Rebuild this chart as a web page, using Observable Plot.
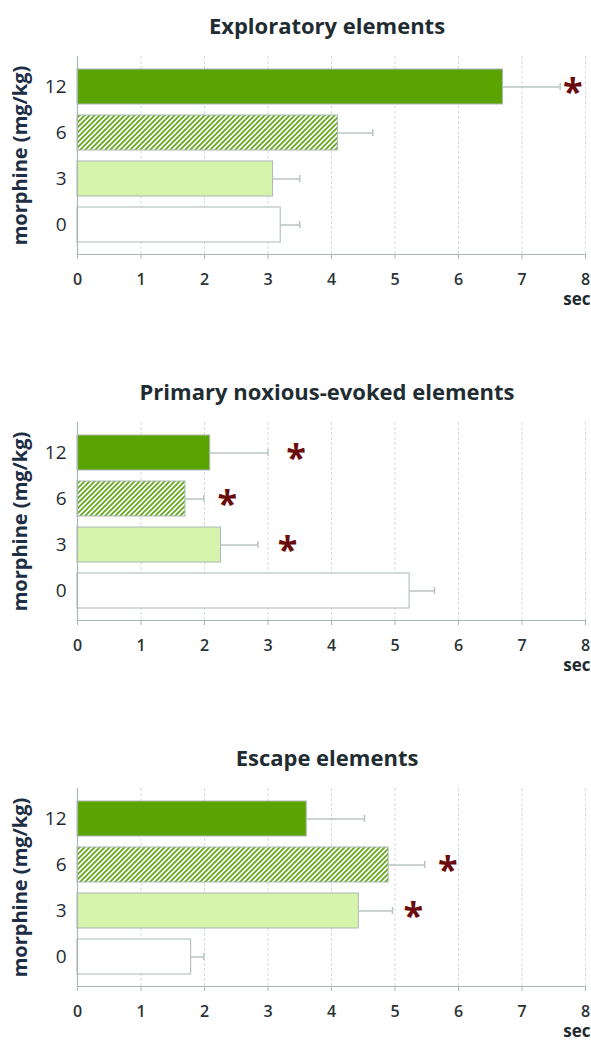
<!DOCTYPE html>
<html>
<head>
<meta charset="utf-8">
<script src="https://cdn.jsdelivr.net/npm/d3@7"></script>
<script src="https://cdn.jsdelivr.net/npm/@observablehq/plot@0.6"></script>
<style>
  html, body { margin: 0; padding: 0; background: #ffffff; }
  body { width: 591px; font-family: "Open Sans", sans-serif; }
  .panel { width: 591px; }
  .title {
    box-sizing: border-box; width: 591px; height: 45px; padding-top: 5px; padding-left: 63px;
    line-height: 40px; text-align: center; font-size: 22px; font-weight: bold; color: #1f2d33;
  }
  svg { display: block; }
</style>
</head>
<body>
<svg width="0" height="0" style="position:absolute">
  <defs>
    <pattern id="hatch" patternUnits="userSpaceOnUse" width="5" height="5">
      <rect width="5" height="5" fill="#ffffff"></rect>
      <path d="M-1,1 l2,-2 M0,5 l5,-5 M4,6 l2,-2" stroke="#6aaa22" stroke-width="1.9"></path>
    </pattern>
  </defs>
</svg>
<div id="chart"></div>
<script>
// ---- data ----
const doses = ["12", "6", "3", "0"];
const panelTitles = ["Exploratory elements", "Primary noxious-evoked elements", "Escape elements"];
const xTicks = [0, 1, 2, 3, 4, 5, 6, 7, 8];

const exploratoryMean = [6.70, 4.10, 3.08, 3.20];
const exploratorySem = [0.90, 0.55, 0.42, 0.30];
const exploratoryStar = [7.80, null, null, null];

const noxiousMean = [2.09, 1.70, 2.26, 5.23];
const noxiousSem = [0.91, 0.29, 0.58, 0.39];
const noxiousStar = [3.44, 2.36, 3.31, null];

const escapeMean = [3.61, 4.90, 4.43, 1.79];
const escapeSem = [0.91, 0.57, 0.53, 0.20];
const escapeStar = [null, 5.83, 5.29, null];

const doseFills = ["#5aa300", "url(#hatch)", "#d6f4ab", "#ffffff"];
const yLabel = "morphine (mg/kg)";
const xLabel = "sec";

const panels = [
  {title: panelTitles[0], mean: exploratoryMean, sem: exploratorySem, star: exploratoryStar},
  {title: panelTitles[1], mean: noxiousMean, sem: noxiousSem, star: noxiousStar},
  {title: panelTitles[2], mean: escapeMean, sem: escapeSem, star: escapeStar}
];

const root = document.getElementById("chart");
const greyLine = "#a9b7b5";

for (const p of panels) {
  const rows = doses.map((d, i) => ({dose: d, value: p.mean[i], sem: p.sem[i]}));
  const stars = doses.map((d, i) => ({dose: d, x: p.star[i]})).filter(d => d.x != null);

  const div = document.createElement("div");
  div.className = "panel";
  const t = document.createElement("div");
  t.className = "title";
  t.textContent = p.title;
  div.appendChild(t);

  const chart = Plot.plot({
    width: 591,
    height: 321,
    marginLeft: 77,
    marginRight: 6,
    marginTop: 11,
    marginBottom: 112,
    style: {fontFamily: "'Open Sans', sans-serif", background: "#ffffff", overflow: "visible"},
    x: {domain: [0, 8], ticks: xTicks},
    y: {type: "band", domain: doses, range: [17.4, 203.4], paddingInner: 0.24, paddingOuter: 0.12},
    color: {type: "ordinal", domain: doses, range: doseFills},
    marks: [
      Plot.gridX(xTicks.slice(1), {stroke: "#d6dbdb", strokeOpacity: 1, strokeDasharray: "3,2", strokeWidth: 1}),
      Plot.barX(rows, {x: "value", y: "dose", fill: "dose", stroke: greyLine, strokeWidth: 1}),
      Plot.ruleY(rows, {x1: "value", x2: d => d.value + d.sem, y: "dose", stroke: "#b9c5c3", strokeWidth: 1.5}),
      Plot.tickX(rows, {x: d => d.value + d.sem, y: "dose", stroke: "#b9c5c3", strokeWidth: 1.5, insetTop: 14, insetBottom: 14}),
      Plot.text(stars, {x: "x", y: "dose", text: () => "*", fill: "#6b0c0c", fontSize: 36, fontWeight: "bold", dy: 5}),
      Plot.ruleX([0], {stroke: greyLine, strokeWidth: 1.2}),
      Plot.frame({anchor: "bottom", stroke: greyLine, strokeWidth: 1.2}),
      Plot.axisX(xTicks, {tickSize: 5, tickPadding: 14, stroke: greyLine, fontSize: 16, fontWeight: 600, fill: "#2a3236", label: null}),
      Plot.axisY({tickSize: 0, tickPadding: 11, fontSize: 19, fontWeight: 500, fill: "#1f2a30", label: null}),
      Plot.text([yLabel], {frameAnchor: "left", dx: -57, rotate: -90, textAnchor: "middle", fontSize: 20, fontWeight: "bold", fill: "#1d2e45"}),
      Plot.text([xLabel], {frameAnchor: "bottom-right", lineAnchor: "bottom", dx: 5, dy: 50, textAnchor: "end", fontSize: 17, fontWeight: "bold", fill: "#1f2a30"})
    ]
  });
  div.appendChild(chart);
  root.appendChild(div);
}
</script>
</body>
</html>
